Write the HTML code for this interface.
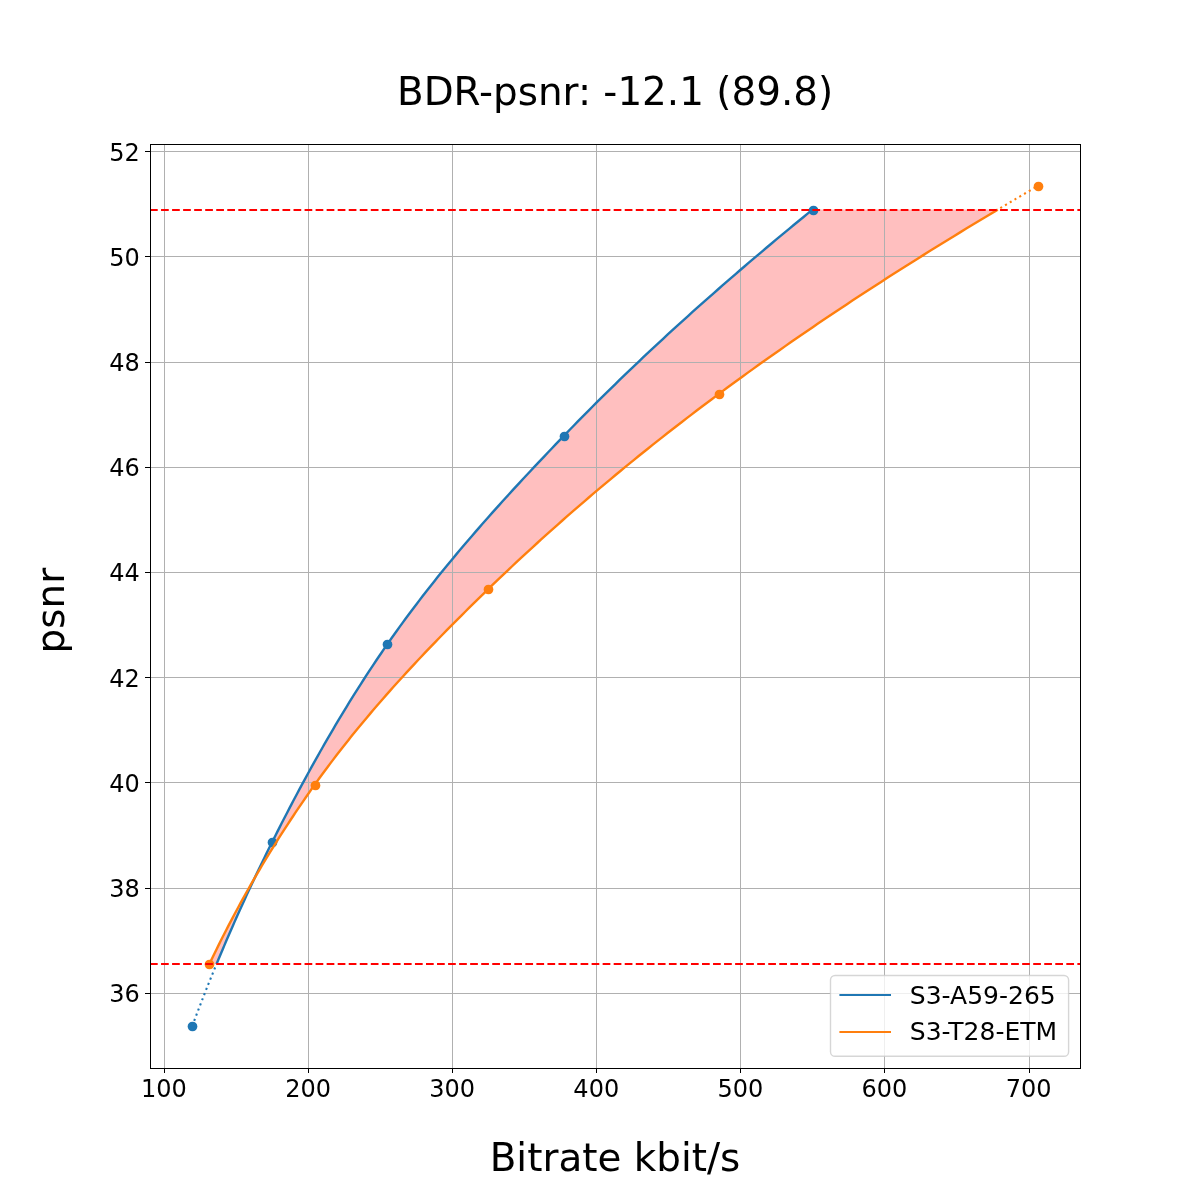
<!DOCTYPE html>
<html lang="en"><head><meta charset="utf-8"><title>BDR-psnr</title>
<style>html,body{margin:0;padding:0;background:#fff}svg{display:block}text{font-family:'DejaVu Sans','Liberation Sans',sans-serif;fill:#000}</style></head><body>
<svg width="1200" height="1200" viewBox="0 0 1200 1200">
<rect width="1200" height="1200" fill="#fff"/>
<path d="M216.52,964.08 L218.09,960.29 L219.67,956.50 L221.26,952.71 L222.86,948.91 L224.47,945.12 L226.09,941.33 L227.72,937.54 L229.36,933.75 L231.01,929.96 L232.67,926.17 L234.34,922.38 L236.02,918.58 L237.71,914.79 L239.41,911.00 L241.12,907.21 L242.84,903.42 L244.57,899.63 L246.32,895.84 L248.07,892.05 L249.83,888.25 L251.60,884.46 L253.39,880.67 L255.18,876.88 L256.99,873.09 L258.80,869.30 L260.63,865.51 L262.46,861.72 L264.31,857.92 L266.17,854.13 L268.04,850.34 L269.92,846.55 L271.80,842.76 L273.70,838.97 L275.61,835.18 L277.53,831.39 L279.45,827.59 L281.39,823.80 L283.33,820.01 L285.29,816.22 L287.25,812.43 L289.22,808.64 L291.20,804.85 L293.20,801.06 L295.20,797.26 L297.21,793.47 L299.24,789.68 L301.27,785.89 L303.32,782.10 L305.37,778.31 L307.44,774.52 L309.52,770.73 L311.61,766.93 L313.72,763.14 L315.83,759.35 L317.96,755.56 L320.10,751.77 L322.26,747.98 L324.42,744.19 L326.60,740.40 L328.80,736.60 L331.01,732.81 L333.23,729.02 L335.47,725.23 L337.72,721.44 L339.99,717.65 L342.27,713.86 L344.57,710.07 L346.88,706.27 L349.21,702.48 L351.56,698.69 L353.92,694.90 L356.31,691.11 L358.71,687.32 L361.12,683.53 L363.56,679.74 L366.01,675.94 L368.48,672.15 L370.98,668.36 L373.49,664.57 L376.02,660.78 L378.57,656.99 L381.15,653.20 L383.74,649.41 L386.36,645.61 L389.00,641.82 L391.66,638.03 L394.34,634.24 L397.05,630.45 L399.79,626.66 L402.54,622.87 L405.33,619.08 L408.13,615.28 L410.96,611.49 L413.81,607.70 L416.68,603.91 L419.58,600.12 L422.49,596.33 L425.44,592.54 L428.40,588.75 L431.39,584.95 L434.39,581.16 L437.42,577.37 L440.48,573.58 L443.55,569.79 L446.65,566.00 L449.76,562.21 L452.90,558.42 L456.06,554.62 L459.24,550.83 L462.44,547.04 L465.66,543.25 L468.90,539.46 L472.16,535.67 L475.44,531.88 L478.74,528.09 L482.05,524.29 L485.39,520.50 L488.74,516.71 L492.11,512.92 L495.50,509.13 L498.91,505.34 L502.33,501.55 L505.77,497.76 L509.22,493.96 L512.69,490.17 L516.18,486.38 L519.68,482.59 L523.19,478.80 L526.72,475.01 L530.26,471.22 L533.82,467.43 L537.39,463.63 L540.97,459.84 L544.56,456.05 L548.16,452.26 L551.77,448.47 L555.39,444.68 L559.02,440.89 L562.66,437.10 L566.31,433.30 L569.98,429.51 L573.67,425.72 L577.37,421.93 L581.09,418.14 L584.83,414.35 L588.59,410.56 L592.36,406.77 L596.16,402.97 L599.97,399.18 L603.80,395.39 L607.64,391.60 L611.51,387.81 L615.39,384.02 L619.29,380.23 L623.21,376.44 L627.14,372.64 L631.10,368.85 L635.07,365.06 L639.06,361.27 L643.06,357.48 L647.09,353.69 L651.13,349.90 L655.19,346.11 L659.26,342.31 L663.36,338.52 L667.47,334.73 L671.60,330.94 L675.74,327.15 L679.90,323.36 L684.09,319.57 L688.28,315.78 L692.50,311.98 L696.73,308.19 L700.98,304.40 L705.24,300.61 L709.53,296.82 L713.83,293.03 L718.14,289.24 L722.48,285.45 L726.83,281.65 L731.19,277.86 L735.58,274.07 L739.97,270.28 L744.39,266.49 L748.82,262.70 L753.27,258.91 L757.74,255.12 L762.22,251.32 L766.71,247.53 L771.22,243.74 L775.75,239.95 L780.30,236.16 L784.86,232.37 L789.43,228.58 L794.02,224.79 L798.63,220.99 L803.25,217.20 L807.89,213.41 L812.54,209.62 L997.73,209.62 L991.39,213.41 L985.08,217.20 L978.79,220.99 L972.52,224.79 L966.28,228.58 L960.06,232.37 L953.86,236.16 L947.69,239.95 L941.55,243.74 L935.43,247.53 L929.33,251.32 L923.26,255.12 L917.22,258.91 L911.19,262.70 L905.20,266.49 L899.23,270.28 L893.28,274.07 L887.36,277.86 L881.47,281.65 L875.60,285.45 L869.76,289.24 L863.94,293.03 L858.15,296.82 L852.38,300.61 L846.64,304.40 L840.93,308.19 L835.24,311.98 L829.58,315.78 L823.95,319.57 L818.34,323.36 L812.76,327.15 L807.20,330.94 L801.67,334.73 L796.17,338.52 L790.70,342.31 L785.25,346.11 L779.83,349.90 L774.43,353.69 L769.06,357.48 L763.72,361.27 L758.41,365.06 L753.12,368.85 L747.86,372.64 L742.62,376.44 L737.42,380.23 L732.24,384.02 L727.08,387.81 L721.96,391.60 L716.86,395.39 L711.79,399.18 L706.74,402.97 L701.72,406.77 L696.72,410.56 L691.75,414.35 L686.80,418.14 L681.88,421.93 L676.98,425.72 L672.11,429.51 L667.26,433.30 L662.44,437.10 L657.64,440.89 L652.87,444.68 L648.12,448.47 L643.40,452.26 L638.69,456.05 L634.02,459.84 L629.36,463.63 L624.73,467.43 L620.13,471.22 L615.54,475.01 L610.98,478.80 L606.45,482.59 L601.94,486.38 L597.45,490.17 L592.98,493.96 L588.54,497.76 L584.12,501.55 L579.72,505.34 L575.34,509.13 L570.99,512.92 L566.66,516.71 L562.35,520.50 L558.07,524.29 L553.81,528.09 L549.57,531.88 L545.35,535.67 L541.15,539.46 L536.98,543.25 L532.83,547.04 L528.70,550.83 L524.59,554.62 L520.50,558.42 L516.44,562.21 L512.40,566.00 L508.37,569.79 L504.37,573.58 L500.40,577.37 L496.44,581.16 L492.50,584.95 L488.59,588.75 L484.69,592.54 L480.81,596.33 L476.94,600.12 L473.09,603.91 L469.25,607.70 L465.43,611.49 L461.62,615.28 L457.83,619.08 L454.06,622.87 L450.30,626.66 L446.57,630.45 L442.85,634.24 L439.16,638.03 L435.48,641.82 L431.82,645.61 L428.19,649.41 L424.58,653.20 L420.99,656.99 L417.42,660.78 L413.87,664.57 L410.35,668.36 L406.85,672.15 L403.37,675.94 L399.92,679.74 L396.49,683.53 L393.09,687.32 L389.71,691.11 L386.36,694.90 L383.03,698.69 L379.73,702.48 L376.45,706.27 L373.20,710.07 L369.98,713.86 L366.78,717.65 L363.61,721.44 L360.47,725.23 L357.35,729.02 L354.26,732.81 L351.19,736.60 L348.16,740.40 L345.15,744.19 L342.17,747.98 L339.21,751.77 L336.29,755.56 L333.39,759.35 L330.52,763.14 L327.67,766.93 L324.86,770.73 L322.07,774.52 L319.31,778.31 L316.58,782.10 L313.87,785.89 L311.19,789.68 L308.53,793.47 L305.90,797.26 L303.28,801.06 L300.69,804.85 L298.11,808.64 L295.56,812.43 L293.03,816.22 L290.52,820.01 L288.04,823.80 L285.57,827.59 L283.12,831.39 L280.70,835.18 L278.29,838.97 L275.90,842.76 L273.54,846.55 L271.19,850.34 L268.87,854.13 L266.56,857.92 L264.27,861.72 L262.00,865.51 L259.75,869.30 L257.52,873.09 L255.31,876.88 L253.12,880.67 L250.95,884.46 L248.79,888.25 L246.66,892.05 L244.54,895.84 L242.44,899.63 L240.36,903.42 L238.29,907.21 L236.25,911.00 L234.22,914.79 L232.20,918.58 L230.21,922.38 L228.23,926.17 L226.27,929.96 L224.33,933.75 L222.40,937.54 L220.49,941.33 L218.60,945.12 L216.72,948.91 L214.86,952.71 L213.02,956.50 L211.19,960.29 L209.38,964.08Z" fill="#ff0000" fill-opacity="0.25" stroke="none"/>
<g stroke="#b0b0b0" stroke-width="1.11" shape-rendering="crispEdges">
<line x1="164.5" y1="144" x2="164.5" y2="1068"/>
<line x1="308.5" y1="144" x2="308.5" y2="1068"/>
<line x1="452.5" y1="144" x2="452.5" y2="1068"/>
<line x1="596.5" y1="144" x2="596.5" y2="1068"/>
<line x1="740.5" y1="144" x2="740.5" y2="1068"/>
<line x1="884.5" y1="144" x2="884.5" y2="1068"/>
<line x1="1029.5" y1="144" x2="1029.5" y2="1068"/>
<line x1="150" y1="151.5" x2="1080" y2="151.5"/>
<line x1="150" y1="256.5" x2="1080" y2="256.5"/>
<line x1="150" y1="362.5" x2="1080" y2="362.5"/>
<line x1="150" y1="467.5" x2="1080" y2="467.5"/>
<line x1="150" y1="572.5" x2="1080" y2="572.5"/>
<line x1="150" y1="677.5" x2="1080" y2="677.5"/>
<line x1="150" y1="782.5" x2="1080" y2="782.5"/>
<line x1="150" y1="888.5" x2="1080" y2="888.5"/>
<line x1="150" y1="993.5" x2="1080" y2="993.5"/>
</g>
<g stroke="#000" stroke-width="1.11" shape-rendering="crispEdges">
<line x1="164.5" y1="1068.5" x2="164.5" y2="1073.4"/>
<line x1="308.5" y1="1068.5" x2="308.5" y2="1073.4"/>
<line x1="452.5" y1="1068.5" x2="452.5" y2="1073.4"/>
<line x1="596.5" y1="1068.5" x2="596.5" y2="1073.4"/>
<line x1="740.5" y1="1068.5" x2="740.5" y2="1073.4"/>
<line x1="884.5" y1="1068.5" x2="884.5" y2="1073.4"/>
<line x1="1029.5" y1="1068.5" x2="1029.5" y2="1073.4"/>
<line x1="145.4" y1="151.5" x2="150.5" y2="151.5"/>
<line x1="145.4" y1="256.5" x2="150.5" y2="256.5"/>
<line x1="145.4" y1="362.5" x2="150.5" y2="362.5"/>
<line x1="145.4" y1="467.5" x2="150.5" y2="467.5"/>
<line x1="145.4" y1="572.5" x2="150.5" y2="572.5"/>
<line x1="145.4" y1="677.5" x2="150.5" y2="677.5"/>
<line x1="145.4" y1="782.5" x2="150.5" y2="782.5"/>
<line x1="145.4" y1="888.5" x2="150.5" y2="888.5"/>
<line x1="145.4" y1="993.5" x2="150.5" y2="993.5"/>
</g>
<path d="M216.52,964.08 L218.09,960.29 L219.67,956.50 L221.26,952.71 L222.86,948.91 L224.47,945.12 L226.09,941.33 L227.72,937.54 L229.36,933.75 L231.01,929.96 L232.67,926.17 L234.34,922.38 L236.02,918.58 L237.71,914.79 L239.41,911.00 L241.12,907.21 L242.84,903.42 L244.57,899.63 L246.32,895.84 L248.07,892.05 L249.83,888.25 L251.60,884.46 L253.39,880.67 L255.18,876.88 L256.99,873.09 L258.80,869.30 L260.63,865.51 L262.46,861.72 L264.31,857.92 L266.17,854.13 L268.04,850.34 L269.92,846.55 L271.80,842.76 L273.70,838.97 L275.61,835.18 L277.53,831.39 L279.45,827.59 L281.39,823.80 L283.33,820.01 L285.29,816.22 L287.25,812.43 L289.22,808.64 L291.20,804.85 L293.20,801.06 L295.20,797.26 L297.21,793.47 L299.24,789.68 L301.27,785.89 L303.32,782.10 L305.37,778.31 L307.44,774.52 L309.52,770.73 L311.61,766.93 L313.72,763.14 L315.83,759.35 L317.96,755.56 L320.10,751.77 L322.26,747.98 L324.42,744.19 L326.60,740.40 L328.80,736.60 L331.01,732.81 L333.23,729.02 L335.47,725.23 L337.72,721.44 L339.99,717.65 L342.27,713.86 L344.57,710.07 L346.88,706.27 L349.21,702.48 L351.56,698.69 L353.92,694.90 L356.31,691.11 L358.71,687.32 L361.12,683.53 L363.56,679.74 L366.01,675.94 L368.48,672.15 L370.98,668.36 L373.49,664.57 L376.02,660.78 L378.57,656.99 L381.15,653.20 L383.74,649.41 L386.36,645.61 L389.00,641.82 L391.66,638.03 L394.34,634.24 L397.05,630.45 L399.79,626.66 L402.54,622.87 L405.33,619.08 L408.13,615.28 L410.96,611.49 L413.81,607.70 L416.68,603.91 L419.58,600.12 L422.49,596.33 L425.44,592.54 L428.40,588.75 L431.39,584.95 L434.39,581.16 L437.42,577.37 L440.48,573.58 L443.55,569.79 L446.65,566.00 L449.76,562.21 L452.90,558.42 L456.06,554.62 L459.24,550.83 L462.44,547.04 L465.66,543.25 L468.90,539.46 L472.16,535.67 L475.44,531.88 L478.74,528.09 L482.05,524.29 L485.39,520.50 L488.74,516.71 L492.11,512.92 L495.50,509.13 L498.91,505.34 L502.33,501.55 L505.77,497.76 L509.22,493.96 L512.69,490.17 L516.18,486.38 L519.68,482.59 L523.19,478.80 L526.72,475.01 L530.26,471.22 L533.82,467.43 L537.39,463.63 L540.97,459.84 L544.56,456.05 L548.16,452.26 L551.77,448.47 L555.39,444.68 L559.02,440.89 L562.66,437.10 L566.31,433.30 L569.98,429.51 L573.67,425.72 L577.37,421.93 L581.09,418.14 L584.83,414.35 L588.59,410.56 L592.36,406.77 L596.16,402.97 L599.97,399.18 L603.80,395.39 L607.64,391.60 L611.51,387.81 L615.39,384.02 L619.29,380.23 L623.21,376.44 L627.14,372.64 L631.10,368.85 L635.07,365.06 L639.06,361.27 L643.06,357.48 L647.09,353.69 L651.13,349.90 L655.19,346.11 L659.26,342.31 L663.36,338.52 L667.47,334.73 L671.60,330.94 L675.74,327.15 L679.90,323.36 L684.09,319.57 L688.28,315.78 L692.50,311.98 L696.73,308.19 L700.98,304.40 L705.24,300.61 L709.53,296.82 L713.83,293.03 L718.14,289.24 L722.48,285.45 L726.83,281.65 L731.19,277.86 L735.58,274.07 L739.97,270.28 L744.39,266.49 L748.82,262.70 L753.27,258.91 L757.74,255.12 L762.22,251.32 L766.71,247.53 L771.22,243.74 L775.75,239.95 L780.30,236.16 L784.86,232.37 L789.43,228.58 L794.02,224.79 L798.63,220.99 L803.25,217.20 L807.89,213.41 L812.54,209.62" fill="none" stroke="#1f77b4" stroke-width="2.4" stroke-linecap="butt" stroke-linejoin="round"/>
<path d="M192.27,1026.00 L192.86,1024.41 L193.45,1022.82 L194.05,1021.24 L194.64,1019.65 L195.24,1018.06 L195.84,1016.47 L196.44,1014.89 L197.04,1013.30 L197.64,1011.71 L198.24,1010.12 L198.85,1008.54 L199.46,1006.95 L200.07,1005.36 L200.68,1003.77 L201.29,1002.18 L201.91,1000.60 L202.52,999.01 L203.14,997.42 L203.76,995.83 L204.38,994.25 L205.01,992.66 L205.63,991.07 L206.26,989.48 L206.89,987.90 L207.52,986.31 L208.15,984.72 L208.78,983.13 L209.42,981.54 L210.05,979.96 L210.69,978.37 L211.33,976.78 L211.98,975.19 L212.62,973.61 L213.27,972.02 L213.91,970.43 L214.56,968.84 L215.21,967.26 L215.87,965.67 L216.52,964.08" fill="none" stroke="#1f77b4" stroke-width="2.08" stroke-dasharray="2.08 3.44" stroke-dashoffset="0"/>
<circle cx="192.5" cy="1026.5" r="4.86" fill="#1f77b4"/>
<circle cx="272.5" cy="842.5" r="4.86" fill="#1f77b4"/>
<circle cx="387.5" cy="644.5" r="4.86" fill="#1f77b4"/>
<circle cx="564.5" cy="436.5" r="4.86" fill="#1f77b4"/>
<circle cx="813.5" cy="210.5" r="4.86" fill="#1f77b4"/>
<path d="M209.38,964.08 L211.19,960.29 L213.02,956.50 L214.86,952.71 L216.72,948.91 L218.60,945.12 L220.49,941.33 L222.40,937.54 L224.33,933.75 L226.27,929.96 L228.23,926.17 L230.21,922.38 L232.20,918.58 L234.22,914.79 L236.25,911.00 L238.29,907.21 L240.36,903.42 L242.44,899.63 L244.54,895.84 L246.66,892.05 L248.79,888.25 L250.95,884.46 L253.12,880.67 L255.31,876.88 L257.52,873.09 L259.75,869.30 L262.00,865.51 L264.27,861.72 L266.56,857.92 L268.87,854.13 L271.19,850.34 L273.54,846.55 L275.90,842.76 L278.29,838.97 L280.70,835.18 L283.12,831.39 L285.57,827.59 L288.04,823.80 L290.52,820.01 L293.03,816.22 L295.56,812.43 L298.11,808.64 L300.69,804.85 L303.28,801.06 L305.90,797.26 L308.53,793.47 L311.19,789.68 L313.87,785.89 L316.58,782.10 L319.31,778.31 L322.07,774.52 L324.86,770.73 L327.67,766.93 L330.52,763.14 L333.39,759.35 L336.29,755.56 L339.21,751.77 L342.17,747.98 L345.15,744.19 L348.16,740.40 L351.19,736.60 L354.26,732.81 L357.35,729.02 L360.47,725.23 L363.61,721.44 L366.78,717.65 L369.98,713.86 L373.20,710.07 L376.45,706.27 L379.73,702.48 L383.03,698.69 L386.36,694.90 L389.71,691.11 L393.09,687.32 L396.49,683.53 L399.92,679.74 L403.37,675.94 L406.85,672.15 L410.35,668.36 L413.87,664.57 L417.42,660.78 L420.99,656.99 L424.58,653.20 L428.19,649.41 L431.82,645.61 L435.48,641.82 L439.16,638.03 L442.85,634.24 L446.57,630.45 L450.30,626.66 L454.06,622.87 L457.83,619.08 L461.62,615.28 L465.43,611.49 L469.25,607.70 L473.09,603.91 L476.94,600.12 L480.81,596.33 L484.69,592.54 L488.59,588.75 L492.50,584.95 L496.44,581.16 L500.40,577.37 L504.37,573.58 L508.37,569.79 L512.40,566.00 L516.44,562.21 L520.50,558.42 L524.59,554.62 L528.70,550.83 L532.83,547.04 L536.98,543.25 L541.15,539.46 L545.35,535.67 L549.57,531.88 L553.81,528.09 L558.07,524.29 L562.35,520.50 L566.66,516.71 L570.99,512.92 L575.34,509.13 L579.72,505.34 L584.12,501.55 L588.54,497.76 L592.98,493.96 L597.45,490.17 L601.94,486.38 L606.45,482.59 L610.98,478.80 L615.54,475.01 L620.13,471.22 L624.73,467.43 L629.36,463.63 L634.02,459.84 L638.69,456.05 L643.40,452.26 L648.12,448.47 L652.87,444.68 L657.64,440.89 L662.44,437.10 L667.26,433.30 L672.11,429.51 L676.98,425.72 L681.88,421.93 L686.80,418.14 L691.75,414.35 L696.72,410.56 L701.72,406.77 L706.74,402.97 L711.79,399.18 L716.86,395.39 L721.96,391.60 L727.08,387.81 L732.24,384.02 L737.42,380.23 L742.62,376.44 L747.86,372.64 L753.12,368.85 L758.41,365.06 L763.72,361.27 L769.06,357.48 L774.43,353.69 L779.83,349.90 L785.25,346.11 L790.70,342.31 L796.17,338.52 L801.67,334.73 L807.20,330.94 L812.76,327.15 L818.34,323.36 L823.95,319.57 L829.58,315.78 L835.24,311.98 L840.93,308.19 L846.64,304.40 L852.38,300.61 L858.15,296.82 L863.94,293.03 L869.76,289.24 L875.60,285.45 L881.47,281.65 L887.36,277.86 L893.28,274.07 L899.23,270.28 L905.20,266.49 L911.19,262.70 L917.22,258.91 L923.26,255.12 L929.33,251.32 L935.43,247.53 L941.55,243.74 L947.69,239.95 L953.86,236.16 L960.06,232.37 L966.28,228.58 L972.52,224.79 L978.79,220.99 L985.08,217.20 L991.39,213.41 L997.73,209.62" fill="none" stroke="#ff7f0e" stroke-width="2.4" stroke-linecap="butt" stroke-linejoin="round"/>
<path d="M997.73,209.62 L998.74,209.02 L999.76,208.41 L1000.77,207.80 L1001.79,207.20 L1002.80,206.59 L1003.82,205.99 L1004.84,205.38 L1005.86,204.78 L1006.88,204.17 L1007.90,203.56 L1008.92,202.96 L1009.94,202.35 L1010.96,201.75 L1011.98,201.14 L1013.01,200.54 L1014.03,199.93 L1015.05,199.32 L1016.08,198.72 L1017.10,198.11 L1018.13,197.51 L1019.16,196.90 L1020.18,196.30 L1021.21,195.69 L1022.24,195.09 L1023.27,194.48 L1024.30,193.87 L1025.33,193.27 L1026.36,192.66 L1027.39,192.06 L1028.42,191.45 L1029.45,190.85 L1030.48,190.24 L1031.52,189.63 L1032.55,189.03 L1033.58,188.42 L1034.62,187.82 L1035.65,187.21 L1036.69,186.61 L1037.73,186.00" fill="none" stroke="#ff7f0e" stroke-width="2.08" stroke-dasharray="2.08 3.44" stroke-dashoffset="2.52"/>
<circle cx="209.5" cy="964.5" r="4.86" fill="#ff7f0e"/>
<circle cx="315.5" cy="785.5" r="4.86" fill="#ff7f0e"/>
<circle cx="488.5" cy="589.5" r="4.86" fill="#ff7f0e"/>
<circle cx="719.5" cy="394.5" r="4.86" fill="#ff7f0e"/>
<circle cx="1038.5" cy="186.5" r="4.86" fill="#ff7f0e"/>
<line x1="150" y1="210.0" x2="1080" y2="210.0" stroke="#ff0000" stroke-width="2" stroke-dasharray="7.71 3.33"/>
<line x1="150" y1="964.0" x2="1080" y2="964.0" stroke="#ff0000" stroke-width="2" stroke-dasharray="7.71 3.33"/>
<rect x="150.5" y="144.5" width="930" height="924" fill="none" stroke="#000" stroke-width="1.11" shape-rendering="crispEdges"/>
<g font-size="24px">
<text x="163.96" y="1096.8" text-anchor="middle">100</text>
<text x="308.06" y="1096.8" text-anchor="middle">200</text>
<text x="452.16" y="1096.8" text-anchor="middle">300</text>
<text x="596.27" y="1096.8" text-anchor="middle">400</text>
<text x="740.37" y="1096.8" text-anchor="middle">500</text>
<text x="884.47" y="1096.8" text-anchor="middle">600</text>
<text x="1028.58" y="1096.8" text-anchor="middle">700</text>
<text x="139.9" y="160.62" text-anchor="end">52</text>
<text x="139.9" y="265.84" text-anchor="end">50</text>
<text x="139.9" y="371.05" text-anchor="end">48</text>
<text x="139.9" y="476.27" text-anchor="end">46</text>
<text x="139.9" y="581.49" text-anchor="end">44</text>
<text x="139.9" y="686.71" text-anchor="end">42</text>
<text x="139.9" y="791.92" text-anchor="end">40</text>
<text x="139.9" y="897.14" text-anchor="end">38</text>
<text x="139.9" y="1002.36" text-anchor="end">36</text>
</g>
<text x="615.1" y="104.6" font-size="38.89px" text-anchor="middle">BDR-psnr: -12.1 (89.8)</text>
<text x="615.0" y="1170.8" font-size="38.89px" text-anchor="middle">Bitrate kbit/s</text>
<text transform="translate(64.1,610.6) rotate(-90)" font-size="38.89px" text-anchor="middle">psnr</text>
<rect x="830.5" y="975.5" width="238.1" height="80.8" rx="4.6" ry="4.6" fill="#fff" fill-opacity="0.8" stroke="#ccc" stroke-opacity="0.8" stroke-width="1.39"/>
<line x1="839.4" y1="995" x2="891.0" y2="995" stroke="#1f77b4" stroke-width="2.15"/>
<line x1="839.4" y1="1032" x2="891.0" y2="1032" stroke="#ff7f0e" stroke-width="2.15"/>
<g font-size="25px"><text x="909.8" y="1003.7">S3-A59-265</text><text x="909.8" y="1040.4">S3-T28-ETM</text></g>
</svg></body></html>
